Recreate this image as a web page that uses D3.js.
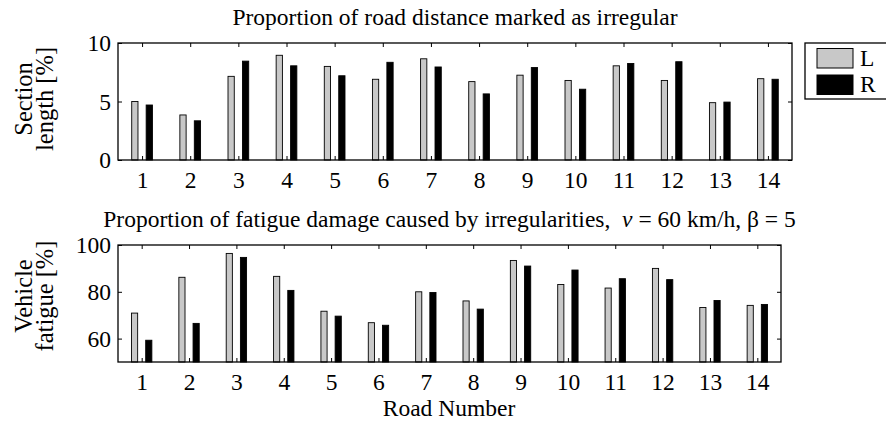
<!DOCTYPE html>
<html>
<head>
<meta charset="utf-8">
<script src="https://cdn.jsdelivr.net/npm/d3@7"></script>
<style>
  body { margin: 0; background: #fff; }
  svg text { font-family: "Liberation Serif", "DejaVu Serif", serif; fill: #000; }
</style>
</head>
<body>
<div id="chart"></div>
<script>
// Road numbers and series values
const roads = [1, 2, 3, 4, 5, 6, 7, 8, 9, 10, 11, 12, 13, 14];
const sectionL = [5.0, 3.85, 7.15, 8.95, 8.0, 6.9, 8.65, 6.7, 7.25, 6.8, 8.05, 6.8, 4.9, 6.95];
const sectionR = [4.7, 3.35, 8.45, 8.05, 7.2, 8.35, 7.95, 5.65, 7.9, 6.05, 8.25, 8.4, 4.95, 6.9];
const fatigueL = [70.9, 86.2, 96.4, 86.6, 71.7, 66.8, 80.0, 76.1, 93.4, 83.1, 81.6, 90.0, 73.3, 74.2];
const fatigueR = [59.3, 66.5, 94.7, 80.6, 69.6, 65.7, 79.7, 72.6, 91.0, 89.3, 85.6, 85.2, 76.3, 74.6];
const seriesNames = ["L", "R"];
const seriesColors = ["#c8c8c8", "#000000"];

const W = 886, H = 424;
const FS = 23.5;
const svg = d3.select("#chart").append("svg")
    .attr("width", W)
    .attr("height", H);

function drawPanel(opts) {
    const { left, right, top, bottom, yDomain, yTicks, valsL, valsR, title, titleY, labelLines, labelY } = opts;

    const x = d3.scaleLinear().domain([0.5, 14.5]).range([left, right]);
    const y = d3.scaleLinear().domain(yDomain).range([bottom, top]);
    const unit = x(2) - x(1);
    const barW = unit * 0.13;
    const off = unit * 0.15;

    const g = svg.append("g");

    // bars
    [valsL, valsR].forEach((vals, si) => {
        g.selectAll(null)
            .data(roads.map((r, i) => ({ r, v: vals[i] })))
            .join("rect")
            .attr("x", d => x(d.r) + (si === 0 ? -off : off) - barW / 2)
            .attr("y", d => y(d.v))
            .attr("width", barW)
            .attr("height", d => bottom - y(d.v))
            .attr("fill", seriesColors[si])
            .attr("stroke", "#000")
            .attr("stroke-width", 0.9);
    });

    // axes (ticks inside, matlab style)
    const tl = 4;
    g.append("g")
        .attr("transform", `translate(0,${bottom})`)
        .call(d3.axisBottom(x).tickValues(roads).tickSize(-tl).tickPadding(11))
        .call(a => a.select(".domain").remove());
    g.append("g")
        .attr("transform", `translate(0,${top})`)
        .call(d3.axisTop(x).tickValues(roads).tickSize(-tl).tickFormat(""))
        .call(a => a.select(".domain").remove());
    g.append("g")
        .attr("transform", `translate(${left},0)`)
        .call(d3.axisLeft(y).tickValues(yTicks).tickSize(-tl).tickPadding(7))
        .call(a => a.select(".domain").remove());
    g.append("g")
        .attr("transform", `translate(${right},0)`)
        .call(d3.axisRight(y).tickValues(yTicks).tickSize(-tl).tickFormat(""))
        .call(a => a.select(".domain").remove());

    g.selectAll(".tick line").attr("stroke", "#000").attr("stroke-width", 1);
    g.selectAll(".tick text")
        .style("font-family", "Liberation Serif")
        .style("font-size", FS + "px")
        .attr("fill", "#000");

    g.append("rect")
        .attr("x", left).attr("y", top)
        .attr("width", right - left).attr("height", bottom - top)
        .attr("fill", "none")
        .attr("stroke", "#000")
        .attr("stroke-width", 1.3);

    // title
    const t = g.append("text")
        .attr("x", (left + right) / 2)
        .attr("y", titleY)
        .attr("text-anchor", "middle")
        .style("font-size", FS + "px");
    title.forEach(p => t.append("tspan").attr("font-style", p.italic ? "italic" : null).text(p.text));

    // y label
    const yl = g.append("text")
        .attr("transform", `translate(0,${labelY}) rotate(-90)`)
        .attr("text-anchor", "middle")
        .style("font-size", "24.5px");
    labelLines.forEach((s, i) => yl.append("tspan").attr("x", 0).attr("y", 32 + i * 21).text(s));
}

drawPanel({
    left: 118, right: 792, top: 43, bottom: 160,
    yDomain: [0, 10], yTicks: [0, 5, 10],
    valsL: sectionL, valsR: sectionR,
    title: [{ text: "Proportion of road distance marked as irregular" }],
    titleY: 25,
    labelLines: ["Section", "length [%]"],
    labelY: 99
});

drawPanel({
    left: 118, right: 781, top: 245, bottom: 362,
    yDomain: [50, 100], yTicks: [60, 80, 100],
    valsL: fatigueL, valsR: fatigueR,
    title: [
        { text: "Proportion of fatigue damage caused by irregularities,\u00a0\u00a0" },
        { text: "v", italic: true },
        { text: " = 60 km/h, \u03b2 = 5" }
    ],
    titleY: 227,
    labelLines: ["Vehicle", "fatigue [%]"],
    labelY: 296
});

svg.append("text")
    .attr("x", 449)
    .attr("y", 416)
    .attr("text-anchor", "middle")
    .style("font-size", FS + "px")
    .text("Road Number");

// legend
const lg = svg.append("g");
lg.append("rect")
    .attr("x", 805).attr("y", 43)
    .attr("width", 90).attr("height", 56)
    .attr("fill", "#fff").attr("stroke", "#000").attr("stroke-width", 1.3);
seriesNames.forEach((n, i) => {
    lg.append("rect")
        .attr("x", 817).attr("y", 48.5 + i * 26.5)
        .attr("width", 36).attr("height", 19.5)
        .attr("fill", seriesColors[i]).attr("stroke", "#000").attr("stroke-width", 1);
    lg.append("text")
        .attr("x", 860).attr("y", 65.5 + i * 26.5)
        .style("font-size", FS + "px")
        .text(n);
});
</script>
</body>
</html>
